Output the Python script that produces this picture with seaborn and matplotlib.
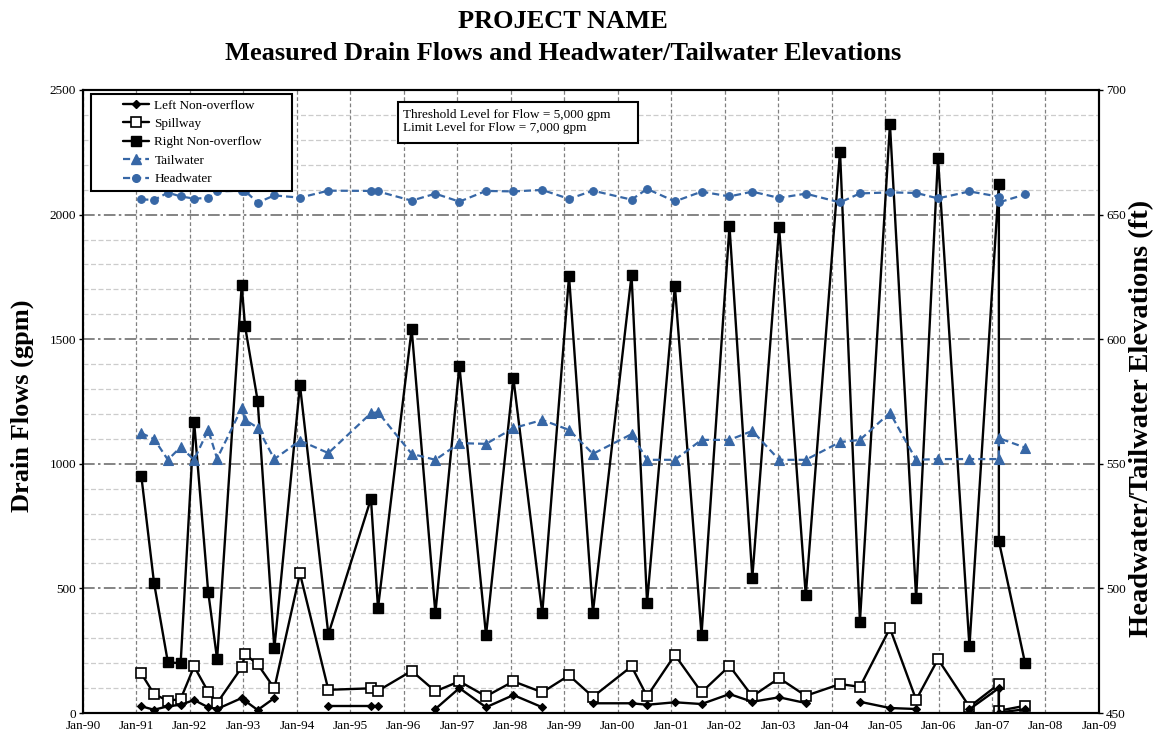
import numpy as np
import pandas as pd
import matplotlib
matplotlib.use("Agg")
import matplotlib.pyplot as plt
import matplotlib.dates as mdates
from matplotlib.lines import Line2D
from matplotlib.patches import Rectangle
from matplotlib.legend_handler import HandlerLine2D
from matplotlib.ticker import MultipleLocator
import seaborn as sns

# Sampling dates of the drain-flow / pool-elevation readings
sample_dates = [
    "1991-02-03", "1991-05-01", "1991-08-04", "1991-10-30",
    "1992-01-30", "1992-05-05", "1992-07-05", "1992-12-20",
    "1993-01-12", "1993-04-08", "1993-07-31",
    "1994-01-22", "1994-08-04",
    "1995-05-22", "1995-07-09",
    "1996-02-24", "1996-08-04",
    "1997-01-15", "1997-07-16",
    "1998-01-19", "1998-08-04",
    "1999-02-03", "1999-07-16",
    "2000-04-05", "2000-07-20",
    "2001-01-26", "2001-07-27",
    "2002-02-03", "2002-07-09",
    "2003-01-08", "2003-07-09",
    "2004-02-28", "2004-07-13",
    "2005-02-03", "2005-08-01", "2005-12-28",
    "2006-07-31",
    "2007-02-17", "2007-02-17", "2007-08-15",
]

# Drain flows (gpm); NaN = no reading
left_nonoverflow = [
    27, 13, 27, 33,
    52, 23, 16, 60,
    49, 12, 60,
    np.nan, 27,
    27, 27,
    np.nan, 16,
    100, 23,
    72, 23,
    np.nan, 39,
    39, 33,
    43, 36,
    76, 45,
    63, 40,
    np.nan, 45,
    20, 16, np.nan,
    15,
    100, 2, 15,
]
spillway = [
    159, 76, 49, 56,
    187, 85, 40, 183,
    235, 196, 99,
    560, 93,
    99, 89,
    169, 87,
    127, 67,
    127, 83,
    151, 65,
    187, 67,
    233, 83,
    189, 67,
    140, 69,
    116, 105,
    340, 53, 216,
    25,
    116, 9, 29,
]
right_nonoverflow = [
    953, 523, 203, 200,
    1169, 487, 216, 1716,
    1552, 1253, 259,
    1316, 316,
    860, 421,
    1541, 400,
    1393, 312,
    1343, 400,
    1753, 403,
    1757, 443,
    1713, 315,
    1953, 543,
    1949, 472,
    2253, 367,
    2363, 460, 2229,
    267,
    2123, 690, 200,
]

# Pool elevations (ft)
tailwater = [
    562.3, 560.0, 551.6, 556.7,
    551.6, 563.6, 552.1, 572.3,
    567.6, 564.5, 551.9,
    559.3, 554.3,
    570.3, 570.7,
    554.0, 551.6,
    558.3, 558.0,
    564.3, 567.6,
    563.6, 554.0,
    561.9, 551.6,
    551.6, 559.6,
    559.6, 563.2,
    551.6, 551.6,
    558.7, 559.6,
    570.5, 551.6, 551.9,
    551.9,
    551.9, 560.3, 556.5,
]
headwater = [
    656.1, 655.9, 658.8, 657.3,
    656.4, 656.7, 659.3, 659.6,
    659.5, 654.8, 657.7,
    656.8, 659.6,
    659.5, 659.3,
    655.6, 658.4,
    655.2, 659.5,
    659.3, 659.9,
    656.3, 659.6,
    656.0, 660.3,
    655.3, 659.2,
    657.3, 659.2,
    656.7, 658.4,
    654.9, 658.5,
    658.9, 658.7, 656.5,
    659.3,
    657.2, 654.9, 658.1,
]

series_names = ["Left Non-overflow", "Spillway", "Right Non-overflow", "Tailwater", "Headwater"]
title_lines = ["PROJECT NAME", "Measured Drain Flows and Headwater/Tailwater Elevations"]
note_text = "Threshold Level for Flow = 5,000 gpm\nLimit Level for Flow = 7,000 gpm"

sns.set_style("white")
plt.rcParams["font.family"] = ["Liberation Serif", "DejaVu Serif"]
plt.rcParams["axes.unicode_minus"] = False
plt.rcParams["text.color"] = "black"

dates = pd.to_datetime(sample_dates)
BLUE = "#3767a6"
DASH = (0, (3.2, 1.8))


def runs(values):
    """Frame of readings with a run id so missing readings break the line."""
    vals = np.asarray(values, dtype=float)
    run_id = np.cumsum(np.isnan(vals))
    frame = pd.DataFrame({"date": dates, "value": vals, "run": run_id})
    return frame.dropna()


fig = plt.figure(figsize=(11.55, 7.38), dpi=100)
ax = fig.add_axes([83 / 1155, 1 - 713 / 738, (1099 - 83) / 1155, (713 - 90) / 738])
ax2 = ax.twinx()

common = dict(x="date", y="value", units="run", estimator=None, sort=False, legend=False)

sns.lineplot(data=runs(right_nonoverflow), ax=ax, color="black", lw=1.7,
             marker="s", markersize=6.5, markerfacecolor="black",
             markeredgecolor="black", markeredgewidth=1, zorder=3, **common)
sns.lineplot(data=runs(spillway), ax=ax, color="black", lw=1.7,
             marker="s", markersize=7, markerfacecolor="white",
             markeredgecolor="black", markeredgewidth=1.2, zorder=4, **common)
sns.lineplot(data=runs(left_nonoverflow), ax=ax, color="black", lw=1.7,
             marker="D", markersize=3.8, markerfacecolor="black",
             markeredgecolor="black", markeredgewidth=0.8, zorder=5, **common)

sns.lineplot(data=runs(tailwater), ax=ax2, color=BLUE, lw=1.6, dashes=False,
             linestyle=DASH, marker="^", markersize=7,
             markerfacecolor=BLUE, markeredgecolor=BLUE, markeredgewidth=0.8, **common)
sns.lineplot(data=runs(headwater), ax=ax2, color=BLUE, lw=1.6, dashes=False,
             linestyle=DASH, marker="o", markersize=5.5,
             markerfacecolor=BLUE, markeredgecolor=BLUE, markeredgewidth=0.8, **common)

# Axes ranges and ticks
ax.set_xlim(pd.Timestamp("1990-01-01"), pd.Timestamp("2009-01-01"))
ax.set_ylim(0, 2500)
ax2.set_ylim(450, 700)
ax.xaxis.set_major_locator(mdates.YearLocator())
ax.xaxis.set_major_formatter(mdates.DateFormatter("%b-%y"))
ax.yaxis.set_major_locator(MultipleLocator(500))
ax.yaxis.set_minor_locator(MultipleLocator(100))
ax2.yaxis.set_major_locator(MultipleLocator(50))

ax.grid(which="major", axis="x", color="#808080", ls=(0, (3, 2)), lw=0.9)
ax.grid(which="major", axis="y", color="#707070", ls=(0, (7, 2, 1.5, 2)), lw=1.2)
ax.grid(which="minor", axis="y", color="#cccccc", ls=(0, (4, 2)), lw=0.9)
ax.set_axisbelow(True)
ax2.grid(False)

for a in (ax, ax2):
    for sp in a.spines.values():
        sp.set_color("black")
        sp.set_linewidth(1.5)
ax.tick_params(axis="both", which="major", length=3, width=1, direction="out",
               labelsize=9.5, colors="black", pad=2)
ax.tick_params(axis="y", which="minor", length=0)
ax2.tick_params(axis="y", which="major", length=3, width=1, direction="out",
                labelsize=9.5, colors="black", pad=2)

ax.set_xlabel("")
ax.set_ylabel("")
ax2.set_xlabel("")
ax2.set_ylabel("")

fig.text(22 / 1155, 1 - 406 / 738, "Drain Flows (gpm)", rotation=90,
         ha="center", va="center", fontsize=19, fontweight="bold")
fig.text(1142 / 1155, 1 - 418 / 738, "Headwater/Tailwater Elevations (ft)", rotation=90,
         ha="center", va="center", fontsize=20.5, fontweight="bold")

fig.text(563 / 1155, 1 - 21 / 738, title_lines[0], ha="center", va="center",
         fontsize=19, fontweight="bold")
fig.text(563 / 1155, 1 - 53 / 738, title_lines[1], ha="center", va="center",
         fontsize=19, fontweight="bold")

# Legend covering both axes
handles = [
    Line2D([], [], color="black", lw=1.7, marker="D", markersize=3.8,
           markerfacecolor="black", markeredgecolor="black"),
    Line2D([], [], color="black", lw=1.7, marker="s", markersize=7,
           markerfacecolor="white", markeredgecolor="black", markeredgewidth=1.2),
    Line2D([], [], color="black", lw=1.7, marker="s", markersize=6.5,
           markerfacecolor="black", markeredgecolor="black"),
    Line2D([], [], color=BLUE, lw=1.6, ls=DASH, marker="^", markersize=7,
           markerfacecolor=BLUE, markeredgecolor=BLUE),
    Line2D([], [], color=BLUE, lw=1.6, ls=DASH, marker="o", markersize=5.5,
           markerfacecolor=BLUE, markeredgecolor=BLUE),
]
pad_handler = HandlerLine2D(xpad=2.0)
leg = ax2.legend(handles, series_names, loc="upper left",
                 bbox_to_anchor=(0.0079, 0.5, 0.1978, 0.4935), mode="expand",
                 fontsize=9.5, frameon=True, fancybox=False, framealpha=1,
                 edgecolor="black", borderpad=0.4, labelspacing=0.47,
                 handlelength=4.0, handletextpad=0.4, borderaxespad=0,
                 handler_map={h: pad_handler for h in handles})
leg.get_frame().set_linewidth(1.5)
leg.set_zorder(10)

# Note box with the flow limits
ax2.add_patch(Rectangle((0.310, 0.9149), 0.2363, 0.0658, transform=ax.transAxes,
                        fc="white", ec="black", lw=1.5, zorder=9))
ax2.text(0.315, 0.9494, note_text, transform=ax.transAxes, ha="left", va="center",
         fontsize=9.5, linespacing=1.2, zorder=10)

fig.savefig("out.png", dpi=100)
